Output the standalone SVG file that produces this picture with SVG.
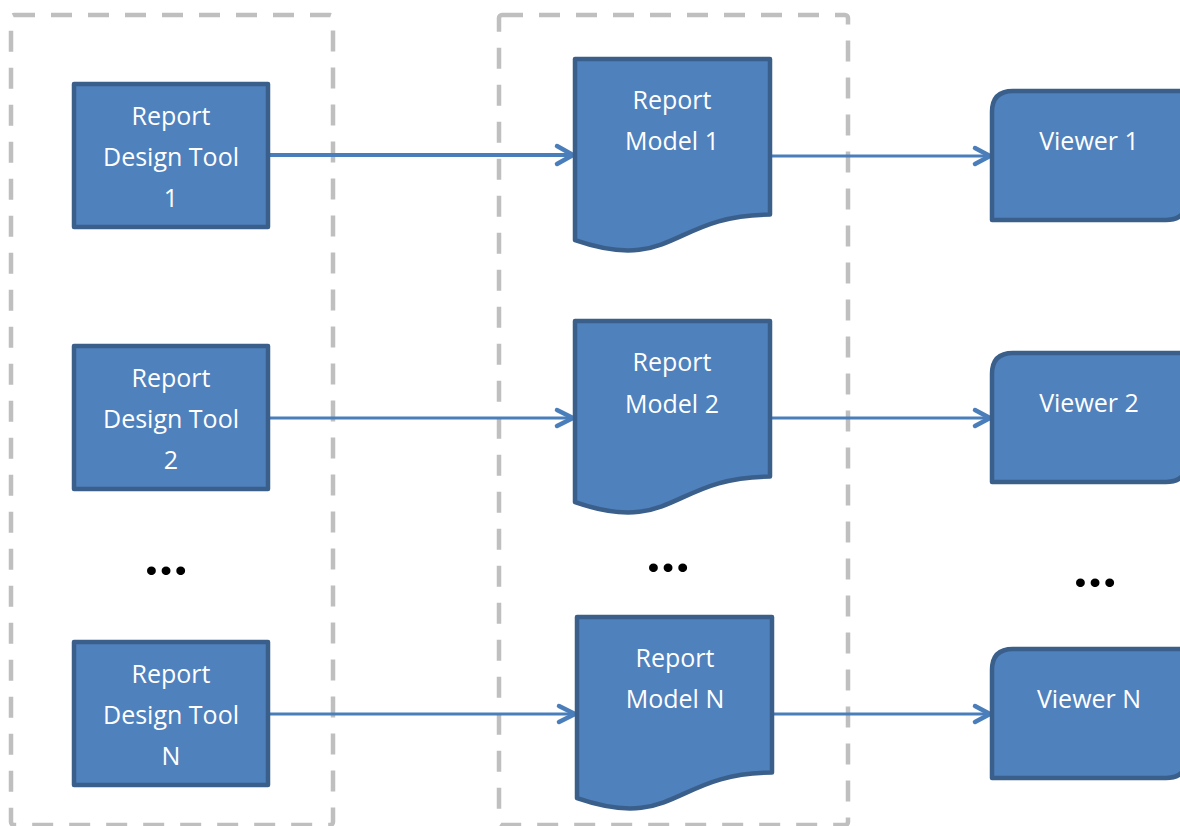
<svg xmlns="http://www.w3.org/2000/svg" width="1180" height="826" viewBox="0 0 1180 826">
<style>
.grp{fill:none;stroke:#bfbfbf;stroke-width:4.5;stroke-dasharray:21 16}
.shape{fill:#4f81bd;stroke:#3a5f8b;stroke-width:4.5;stroke-linejoin:round}
.lbl{font-family:"Open Sans","Liberation Sans",sans-serif;font-size:25px;fill:#ffffff;text-anchor:middle}
.dots{font-family:Lato,"Liberation Sans",sans-serif;font-size:54px;font-weight:900;fill:#000000;text-anchor:middle}
.conn{fill:none;stroke:#4a7ebb;stroke-width:3}
.head{fill:none;stroke:#4a7ebb;stroke-width:4.5;stroke-linecap:round;stroke-linejoin:round}
</style>
<rect width="1180" height="826" fill="#ffffff"/>
<g id="groups">
<rect class="grp" x="11" y="15" width="322" height="810" rx="3"/>
<rect class="grp" x="499" y="15" width="349" height="810" rx="3"/>
</g>
<g id="connectors">
<line class="conn" x1="270" y1="155" x2="573" y2="155" style="stroke-width:4"/>
<polyline class="head" points="557,146 573,155 557,164"/>
<line class="conn" x1="772" y1="156" x2="990" y2="156"/>
<polyline class="head" points="975,148 990,156 975,164"/>
<line class="conn" x1="270" y1="418" x2="573" y2="418"/>
<polyline class="head" points="557,410 573,418 557,426"/>
<line class="conn" x1="772" y1="418" x2="990" y2="418"/>
<polyline class="head" points="975,410 990,418 975,426"/>
<line class="conn" x1="270" y1="714" x2="575" y2="714"/>
<polyline class="head" points="559,706 575,714 559,722"/>
<line class="conn" x1="774" y1="714" x2="990" y2="714"/>
<polyline class="head" points="975,706 990,714 975,722"/>
</g>
<g id="tool1">
<rect class="shape" x="74" y="84" width="194" height="143"/>
<text class="lbl" x="171" y="125">Report</text>
<text class="lbl" x="171" y="166">Design Tool</text>
<text class="lbl" x="171" y="207">1</text>
</g>
<g id="tool2">
<rect class="shape" x="74" y="346" width="194" height="143"/>
<text class="lbl" x="171" y="387">Report</text>
<text class="lbl" x="171" y="428">Design Tool</text>
<text class="lbl" x="171" y="469">2</text>
</g>
<g id="toolN">
<rect class="shape" x="74" y="642" width="194" height="143"/>
<text class="lbl" x="171" y="683">Report</text>
<text class="lbl" x="171" y="724">Design Tool</text>
<text class="lbl" x="171" y="765">N</text>
</g>
<g id="model1">
<path class="shape" d="M575,59 H770 V214.6 C672.5,214.6 672.5,273.8 575,240.2 Z"/>
<text class="lbl" x="672" y="109">Report</text>
<text class="lbl" x="672" y="150">Model 1</text>
</g>
<g id="model2">
<path class="shape" d="M575,321 H770 V476.6 C672.5,476.6 672.5,535.8 575,502.2 Z"/>
<text class="lbl" x="672" y="371">Report</text>
<text class="lbl" x="672" y="413">Model 2</text>
</g>
<g id="modelN">
<path class="shape" d="M577,617 H772 V772.6 C674.5,772.6 674.5,831.8 577,798.2 Z"/>
<text class="lbl" x="675" y="667">Report</text>
<text class="lbl" x="675" y="708">Model N</text>
</g>
<g id="viewer1">
<path class="shape" d="M992,220 V112 Q992,91 1013,91 H1187 V199 Q1187,220 1166,220 Z"/>
<text class="lbl" x="1089" y="150">Viewer 1</text>
</g>
<g id="viewer2">
<path class="shape" d="M992,482 V374 Q992,353 1013,353 H1187 V461 Q1187,482 1166,482 Z"/>
<text class="lbl" x="1089" y="412">Viewer 2</text>
</g>
<g id="viewerN">
<path class="shape" d="M992,778 V670 Q992,649 1013,649 H1187 V757 Q1187,778 1166,778 Z"/>
<text class="lbl" x="1089" y="708">Viewer N</text>
</g>
<g id="ellipses">
<text class="dots" x="166" y="575">…</text>
<text class="dots" x="668" y="572">…</text>
<text class="dots" x="1095" y="587">…</text>
</g>
</svg>
